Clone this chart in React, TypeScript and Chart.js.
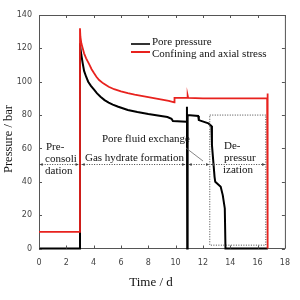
import React, { useEffect, useRef } from "react";
import { Chart, registerables } from "chart.js";

Chart.register(...registerables);

// Confining and axial stress (red)
const confTime = [0, 3.0, 3.0, 3.03, 3.1, 3.2, 3.3, 3.45, 3.67, 3.85, 4.0, 4.2, 4.4, 4.7, 5.1, 5.5, 6.0, 6.5, 7.0, 8.0, 9.0, 9.5, 9.9, 9.92, 10.85, 10.88, 10.92, 12.0, 14.0, 16.7, 16.72, 16.75];
const confValues = [10, 10, 132, 127, 123, 120, 117, 114, 110.5, 107.5, 105.5, 103, 101, 99, 97, 95.5, 94.2, 93.2, 92.3, 90.8, 89.3, 88.5, 87.6, 90.3, 90.3, 91.8, 90.3, 90, 90, 90, 93, 0];

// Pore pressure (black)
const poreTime = [0, 3.0, 3.0, 3.05, 3.1, 3.2, 3.3, 3.45, 3.6, 3.8, 4.0, 4.25, 4.5, 4.8, 5.1, 5.4, 5.8, 6.5, 7.2, 8.0, 8.7, 9.4, 9.7, 9.8, 10.8, 10.83, 10.85, 10.88, 11.65, 11.7, 12.4, 12.62, 12.66, 12.85, 12.9, 13.1, 13.3, 13.45, 13.6, 13.65, 16.75];
const poreValues = [0, 0, 123, 119, 116, 111, 106.5, 103, 100, 97.5, 95.5, 93, 91, 89, 87.5, 86.3, 85, 83, 81.8, 80.6, 79.7, 78.8, 77.8, 76.5, 76, 85, 0, 80, 79.5, 77, 75, 73.5, 62, 43, 40, 38.5, 37, 32, 24, 0, 0];

const xTicks = [0, 2, 4, 6, 8, 10, 12, 14, 16, 18];
const yTicks = [0, 20, 40, 60, 80, 100, 120, 140];

const seriesNames = ["Pore pressure", "Confining and axial stress"];
const seriesColors = ["#000000", "#e8221e"];

// phase annotations: [start, end] in days at pressure level
const phaseLevel = 50.6;
const phaseSpans = [
  [0.05, 2.9],
  [3.12, 10.7],
  [10.95, 12.45],
  [12.6, 16.55],
];
const depressBox = { x0: 12.5, x1: 16.6, y0: 2, y1: 80 };

const toXY = (xs: number[], ys: number[]) => xs.map((x, i) => ({ x, y: ys[i] }));

const overlayPlugin = {
  id: "overlay",
  afterDatasetsDraw(chart: any) {
    const ctx = chart.ctx;
    const { left, right, top, bottom } = chart.chartArea;
    const xs = chart.scales.x;
    const ys = chart.scales.y;
    ctx.save();

    // frame top/right
    ctx.strokeStyle = "#555";
    ctx.lineWidth = 1;
    ctx.beginPath();
    ctx.moveTo(left, top + 0.5);
    ctx.lineTo(right + 0.5, top + 0.5);
    ctx.lineTo(right + 0.5, bottom);
    ctx.stroke();

    // inward ticks
    ctx.beginPath();
    xTicks.forEach((t) => {
      const px = Math.round(xs.getPixelForValue(t)) + 0.5;
      ctx.moveTo(px, bottom);
      ctx.lineTo(px, bottom - 3);
      ctx.moveTo(px, top);
      ctx.lineTo(px, top + 3);
    });
    yTicks.forEach((t) => {
      const py = Math.round(ys.getPixelForValue(t)) + 0.5;
      ctx.moveTo(left, py);
      ctx.lineTo(left + 3, py);
      ctx.moveTo(right, py);
      ctx.lineTo(right - 3, py);
    });
    ctx.stroke();

    // dotted depressurization box
    ctx.strokeStyle = "#444";
    ctx.setLineDash([1, 1.5]);
    const bx0 = xs.getPixelForValue(depressBox.x0);
    const bx1 = xs.getPixelForValue(depressBox.x1);
    const by0 = ys.getPixelForValue(depressBox.y0);
    const by1 = ys.getPixelForValue(depressBox.y1);
    ctx.strokeRect(bx0, by1, bx1 - bx0, by0 - by1);

    // phase arrows
    const py = Math.round(ys.getPixelForValue(phaseLevel)) + 0.5;
    phaseSpans.forEach(([a, b]) => {
      const pa = xs.getPixelForValue(a);
      const pb = xs.getPixelForValue(b);
      ctx.setLineDash([1, 1.5]);
      ctx.beginPath();
      ctx.moveTo(pa, py);
      ctx.lineTo(pb, py);
      ctx.stroke();
      ctx.setLineDash([]);
      ctx.fillStyle = "#444";
      ctx.beginPath();
      ctx.moveTo(pa, py);
      ctx.lineTo(pa + 3, py - 1.5);
      ctx.lineTo(pa + 3, py + 1.5);
      ctx.closePath();
      ctx.fill();
      ctx.beginPath();
      ctx.moveTo(pb, py);
      ctx.lineTo(pb - 3, py - 1.5);
      ctx.lineTo(pb - 3, py + 1.5);
      ctx.closePath();
      ctx.fill();
    });

    // leader line for pore fluid exchange
    ctx.setLineDash([]);
    ctx.strokeStyle = "#666";
    ctx.lineWidth = 0.8;
    ctx.beginPath();
    ctx.moveTo(186, 148);
    ctx.lineTo(203, 161);
    ctx.stroke();

    // texts
    ctx.fillStyle = "#111";
    ctx.font = "11px 'Liberation Serif'";
    ctx.textAlign = "left";
    ctx.textBaseline = "middle";
    ctx.fillText("Pre-", 46, 147);
    ctx.fillText("consoli", 45, 159);
    ctx.fillText("dation", 45, 171);
    ctx.fillText("Gas hydrate formation", 85, 158);
    ctx.fillText("Pore fluid exchange", 102, 139);
    ctx.fillText("De-", 224, 146);
    ctx.fillText("pressur", 224, 158);
    ctx.fillText("ization", 223, 170);

    // legend
    ctx.fillText(seriesNames[0], 152, 42);
    ctx.fillText(seriesNames[1], 152, 54);
    ctx.lineWidth = 2;
    ctx.strokeStyle = "#333";
    ctx.beginPath();
    ctx.moveTo(131, 44);
    ctx.lineTo(150, 44);
    ctx.stroke();
    ctx.strokeStyle = seriesColors[1];
    ctx.beginPath();
    ctx.moveTo(131, 52);
    ctx.lineTo(150, 52);
    ctx.stroke();

    // axis titles
    ctx.fillStyle = "#111";
    ctx.font = "13px 'Liberation Serif'";
    ctx.textAlign = "center";
    ctx.fillText("Time / d", 151, 283);
    ctx.save();
    ctx.translate(9, 139);
    ctx.rotate(-Math.PI / 2);
    ctx.font = "12.5px 'Liberation Serif'";
    ctx.fillText("Pressure / bar", 0, 0);
    ctx.restore();

    ctx.restore();
  },
};

export default function App() {
  const ref = useRef<HTMLCanvasElement | null>(null);
  useEffect(() => {
    if (!ref.current) return;
    const chart = new Chart(ref.current, {
      type: "line",
      data: {
        datasets: [
          {
            label: seriesNames[1],
            data: toXY(confTime, confValues),
            borderColor: seriesColors[1],
            borderWidth: 1.8,
            pointRadius: 0,
            tension: 0,
            clip: 6,
          },
          {
            label: seriesNames[0],
            data: toXY(poreTime, poreValues),
            borderColor: seriesColors[0],
            borderWidth: 2,
            pointRadius: 0,
            tension: 0,
            clip: 6,
          },
        ],
      },
      options: {
        animation: false,
        responsive: false,
        maintainAspectRatio: false,
        layout: { padding: { top: 15, right: 11, left: 0, bottom: 0 } },
        plugins: { legend: { display: false }, tooltip: { enabled: false } },
        scales: {
          x: {
            type: "linear",
            min: 0,
            max: 18,
            afterFit: (s: any) => {
              s.height = 51.5;
            },
            afterBuildTicks: (s: any) => {
              s.ticks = xTicks.map((v) => ({ value: v }));
            },
            grid: { display: false, drawTicks: false },
            border: { display: true, color: "#555", width: 1 },
            ticks: { padding: 10, color: "#444", font: { family: "DejaVu Sans", size: 8 } },
          },
          y: {
            type: "linear",
            min: 0,
            max: 140,
            afterFit: (s: any) => {
              s.width = 39;
            },
            afterBuildTicks: (s: any) => {
              s.ticks = yTicks.map((v) => ({ value: v }));
            },
            grid: { display: false, drawTicks: false },
            border: { display: true, color: "#555", width: 1 },
            ticks: { padding: 7, color: "#444", font: { family: "DejaVu Sans", size: 8 } },
          },
        },
      },
      plugins: [overlayPlugin],
    });
    return () => chart.destroy();
  }, []);
  return (
    <div style={{ position: "fixed", left: 0, top: 0, width: 300, height: 300, background: "#fff" }}>
      <canvas ref={ref} width={300} height={300} style={{ width: 300, height: 300 }} />
    </div>
  );
}
